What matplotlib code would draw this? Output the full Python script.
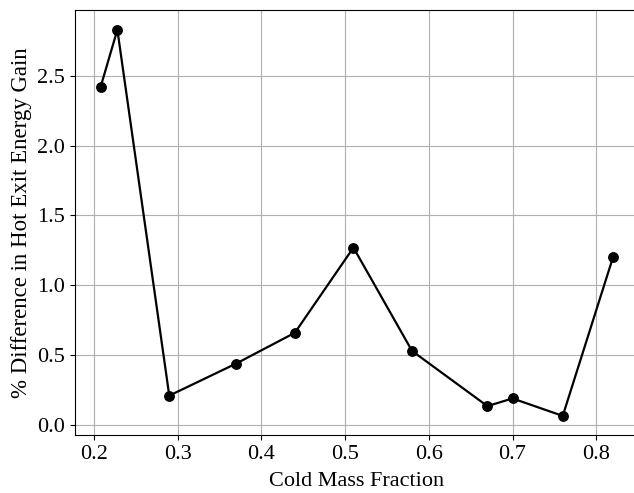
import matplotlib
matplotlib.use('Agg')
import matplotlib.pyplot as plt

cold_fraction = [0.208, 0.228, 0.29, 0.37, 0.44, 0.51, 0.58, 0.67, 0.70, 0.76, 0.82]
pct_diff = [2.42, 2.83, 0.21, 0.44, 0.66, 1.27, 0.53, 0.135, 0.19, 0.065, 1.20]

plt.rcParams['font.family'] = ['Liberation Serif', 'DejaVu Serif']
plt.rcParams['font.size'] = 16

fig = plt.figure(figsize=(6.34, 4.93), dpi=100)
ax = fig.add_axes([75/634, (493-435.2)/493, 563.6/634, 424.8/493])

ax.plot(cold_fraction, pct_diff, color='black', marker='o', markersize=6.8, linewidth=1.6)
ax.grid(True, color='#b0b0b0', linewidth=0.8)
ax.set_axisbelow(True)
ax.spines['right'].set_visible(False)
ax.set_xlabel('Cold Mass Fraction', labelpad=6)
ax.set_ylabel('% Difference in Hot Exit Energy Gain', fontsize=16.5)
ax.set_yticks([0.0, 0.5, 1.0, 1.5, 2.0, 2.5])

fig.savefig('out.png', dpi=100)
